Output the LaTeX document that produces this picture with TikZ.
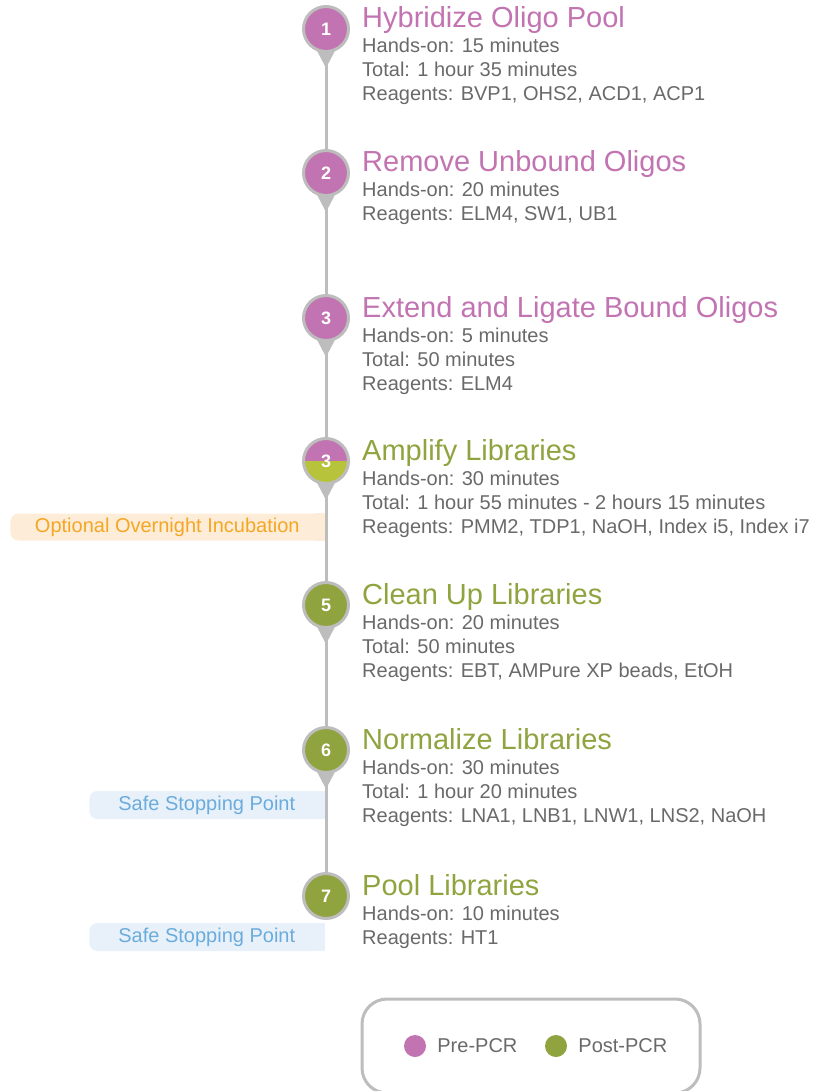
\documentclass[tikz,border=0pt]{standalone}
\usepackage{fontspec}
\setmainfont{Liberation Sans}
\usetikzlibrary{backgrounds, positioning}

\definecolor{prepink}{HTML}{C273B1}
\definecolor{postgreen}{HTML}{8FA33F}
\definecolor{ampgreen}{HTML}{B7C33B}
\definecolor{ringgray}{HTML}{BDBDBD}
\definecolor{bodygray}{HTML}{696969}
\definecolor{optfill}{HTML}{FDEDD8}
\definecolor{opttext}{HTML}{F5A623}
\definecolor{safefill}{HTML}{E8F1FA}
\definecolor{safetext}{HTML}{6AACDB}

\begin{document}
\begin{tikzpicture}[x=1pt, y=-1pt,
    every node/.style={font=\fontsize{20}{24}\selectfont, text=bodygray},
    stepcircle/.style={circle, draw=ringgray, line width=3pt, minimum size=45pt, inner sep=0pt,
      font=\fontsize{18}{20}\selectfont\bfseries, text=white},
    pre/.style={stepcircle, fill=prepink},
    post/.style={stepcircle, fill=postgreen},
    half/.style={stepcircle, path picture={
        \fill[prepink] (path picture bounding box.north west) rectangle (path picture bounding box.east);
        \fill[ampgreen] (path picture bounding box.west) rectangle (path picture bounding box.south east);}},
    pretitle/.style={anchor=base west, inner sep=0pt, font=\fontsize{29}{32}\selectfont, text=prepink},
    posttitle/.style={pretitle, text=postgreen},
    stepinfo/.style={anchor=base west, inner sep=0pt, align=left},
    spine/.style={draw=ringgray, line width=3pt},
    optbox/.style={fill=optfill, text=opttext, rounded corners=8pt, minimum width=314pt,
      minimum height=27pt, inner sep=0pt, anchor=east},
    safebox/.style={fill=safefill, text=safetext, rounded corners=8pt, minimum width=235pt,
      minimum height=28pt, inner sep=0pt, anchor=east},
    legendbox/.style={draw=ringgray, line width=3pt, rounded corners=25pt, minimum width=338pt,
      minimum height=94pt},
    legenddot/.style={circle, minimum size=22pt, inner sep=0pt}]
  \useasboundingbox (0,0) rectangle (812,1091);

  % steps
  \node[pre] (s1) at (326,29) {1};
  \node[pre] (s2) at (326,173) {2};
  \node[pre] (s3) at (326,318) {3};
  \node[half] (s4) at (326,461) {3};
  \node[post] (s5) at (326,605) {5};
  \node[post] (s6) at (326,750) {6};
  \node[post] (s7) at (326,896) {7};

  % titles, info anchored on the last line
  \node[pretitle] (t1) at ([xshift=12pt, yshift=1pt]s1.east) {Hybridize Oligo Pool};
  \node[stepinfo] (i1) at ([yshift=-73pt]t1.base west)
    {Hands-on: 15 minutes\\Total: 1 hour 35 minutes\\Reagents: BVP1, OHS2, ACD1, ACP1};
  \node[pretitle] (t2) at ([xshift=12pt, yshift=1pt]s2.east) {Remove Unbound Oligos};
  \node[stepinfo] (i2) at ([yshift=-49pt]t2.base west)
    {Hands-on: 20 minutes\\Reagents: ELM4, SW1, UB1};
  \node[pretitle] (t3) at ([xshift=12pt, yshift=1pt]s3.east) {Extend and Ligate Bound Oligos};
  \node[stepinfo] (i3) at ([yshift=-73pt]t3.base west)
    {Hands-on: 5 minutes\\Total: 50 minutes\\Reagents: ELM4};
  \node[posttitle] (t4) at ([xshift=12pt, yshift=1pt]s4.east) {Amplify Libraries};
  \node[stepinfo] (i4) at ([yshift=-73pt]t4.base west)
    {Hands-on: 30 minutes\\Total: 1 hour 55 minutes - 2 hours 15 minutes\\Reagents: PMM2, TDP1, NaOH, Index i5, Index i7};
  \node[posttitle] (t5) at ([xshift=12pt, yshift=1pt]s5.east) {Clean Up Libraries};
  \node[stepinfo] (i5) at ([yshift=-73pt]t5.base west)
    {Hands-on: 20 minutes\\Total: 50 minutes\\Reagents: EBT, AMPure XP beads, EtOH};
  \node[posttitle] (t6) at ([xshift=12pt, yshift=1pt]s6.east) {Normalize Libraries};
  \node[stepinfo] (i6) at ([yshift=-73pt]t6.base west)
    {Hands-on: 30 minutes\\Total: 1 hour 20 minutes\\Reagents: LNA1, LNB1, LNW1, LNS2, NaOH};
  \node[posttitle] (t7) at ([xshift=12pt, yshift=1pt]s7.east) {Pool Libraries};
  \node[stepinfo] (i7) at ([yshift=-49pt]t7.base west)
    {Hands-on: 10 minutes\\Reagents: HT1};

  % side notes
  \node[optbox] (opt) at (324.5,527) {Optional Overnight Incubation};
  \fill[optfill] ([xshift=-10pt]opt.south east) rectangle (opt.north east);
  \node[safebox] (safe1) at (324.5,805) {Safe Stopping Point};
  \fill[safefill] ([xshift=-10pt]safe1.south east) rectangle (safe1.north east);
  \node[safebox] (safe2) at (324.5,937) {Safe Stopping Point};
  \fill[safefill] ([xshift=-10pt]safe2.south east) rectangle (safe2.north east);

  % legend
  \node[legendbox] (legend) at (531,1046) {};
  \node[legenddot, fill=prepink] (dotpre) at (415,1046) {};
  \node[right=11pt of dotpre, inner sep=0pt] (lblpre) {Pre-PCR};
  \node[legenddot, fill=postgreen] (dotpost) at (556,1046) {};
  \node[right=11pt of dotpost, inner sep=0pt] (lblpost) {Post-PCR};

  \begin{scope}[on background layer]
    \draw[spine] (s1) -- (s7);
    \foreach \i in {1,...,6}
      \fill[ringgray] (s\i.center) ++(-12,16) -- ++(12,23) -- ++(12,-23) -- cycle;
  \end{scope}
\end{tikzpicture}
\end{document}
